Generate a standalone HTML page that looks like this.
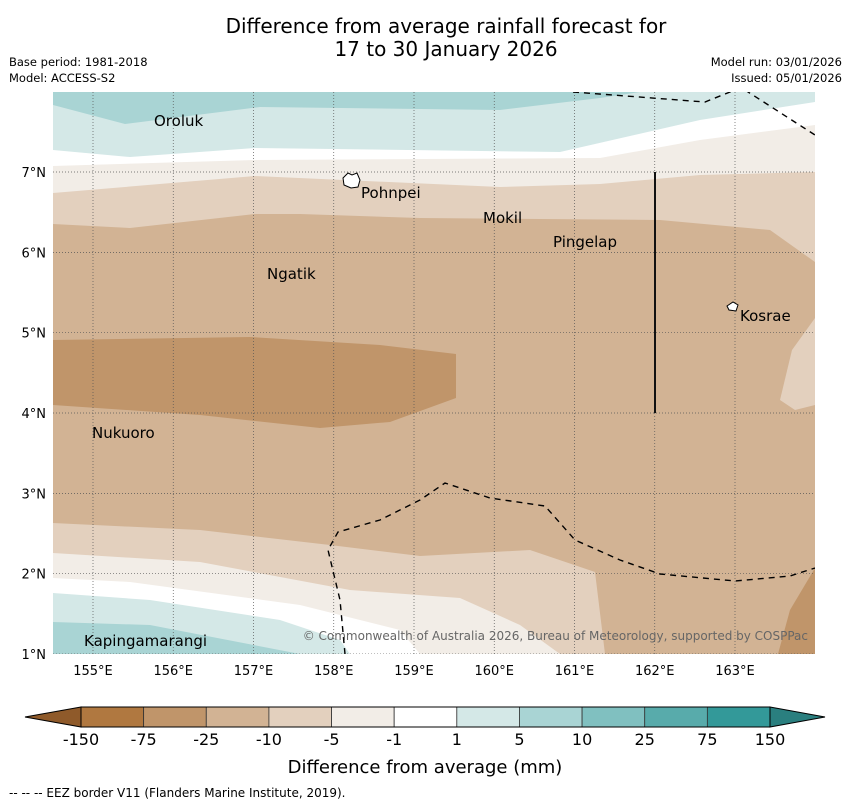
<!DOCTYPE html>
<html><head><meta charset="utf-8"><style>
body{margin:0;background:#fff;font-family:"Liberation Sans","DejaVu Sans",sans-serif}
svg text{font-family:"DejaVu Sans","Liberation Sans",sans-serif}
</style></head><body>
<svg width="850" height="804" viewBox="0 0 850 804" xmlns="http://www.w3.org/2000/svg">
<text x="446" y="33" font-size="20" text-anchor="middle">Difference from average rainfall forecast for</text>
<text x="446" y="56" font-size="20" text-anchor="middle">17 to 30 January 2026</text>
<text x="9" y="66" font-size="11.5">Base period: 1981-2018</text>
<text x="9" y="82" font-size="11.5">Model: ACCESS-S2</text>
<text x="842" y="66" font-size="11.5" text-anchor="end">Model run: 03/01/2026</text>
<text x="842" y="82" font-size="11.5" text-anchor="end">Issued: 05/01/2026</text>
<defs><clipPath id="mc"><rect x="53" y="92" width="762" height="562"/></clipPath></defs>
<g clip-path="url(#mc)">
<rect x="53" y="92" width="762" height="562" fill="#d2b394"/>
<path d="M53,92 L815,92 L815,262 L770,230 L660,220 L420,218 L300,214 L255,214 L130,228 L53,224 Z" fill="#e3d0be"/>
<path d="M53,92 L815,92 L815,172 L700,175 L600,184 L500,187 L255,176 L53,193 Z" fill="#f2ede7"/>
<path d="M53,92 L815,92 L815,125 L700,140 L600,158 L255,160 L53,166 Z" fill="#ffffff"/>
<path d="M53,92 L815,92 L815,102 L700,120 L560,152 L255,148 L130,157 L53,150 Z" fill="#d4e8e7"/>
<path d="M53,92 L640,92 L600,98 L500,110 L260,107 L125,124 L53,105 Z" fill="#a9d4d4"/>
<path d="M53,340 L250,337 L380,345 L456,354 L456,398 L390,422 L320,428 L200,415 L53,405 Z" fill="#c0956a"/>
<path d="M815,318 L792,350 L780,400 L795,410 L815,405 Z" fill="#e3d0be"/>
<path d="M53,523 L200,530 L330,545 L420,556 L530,550 L595,572 L605,654 L53,654 Z" fill="#e3d0be"/>
<path d="M778,654 L790,610 L815,568 L815,654 Z" fill="#c0956a"/>
<path d="M53,553 L200,562 L350,590 L460,598 L520,625 L560,654 L53,654 Z" fill="#f2ede7"/>
<path d="M53,578 L130,582 L300,605 L400,630 L420,654 L53,654 Z" fill="#ffffff"/>
<path d="M53,593 L150,600 L280,620 L340,640 L350,654 L53,654 Z" fill="#d4e8e7"/>
<path d="M53,622 L150,625 L300,654 L53,654 Z" fill="#a9d4d4"/>
<g id="grid" stroke="#555" stroke-width="0.7" stroke-dasharray="1,2"></g>
<line x1="655" y1="172" x2="655" y2="413" stroke="#111" stroke-width="2"/>
<g fill="none" stroke="#000" stroke-width="1.4" stroke-dasharray="6,5">
<path d="M573,92 L705,102 L735,90"/>
<path d="M745,90 L815,135"/>
<path d="M345,654 L340,600 L328,550 L338,532 L380,520 L420,500 L445,483 L490,498 L545,506 L575,540 L620,560 L660,574 L735,581 L790,576 L815,568"/>
</g>
<path d="M343,178 L348,173 L352,175 L357,173 L360,180 L358,187 L351,188 L344,185 Z" fill="#fff" stroke="#000" stroke-width="1"/>
<path d="M727,306 L733,302 L738,305 L736,311 L729,310 Z" fill="#fff" stroke="#000" stroke-width="1"/>
<text x="808" y="640" font-size="12" fill="#666" text-anchor="end">© Commonwealth of Australia 2026, Bureau of Meteorology, supported by COSPPac</text>
</g>
<g font-size="15" fill="#000">
<text x="154" y="126">Oroluk</text>
<text x="361" y="198">Pohnpei</text>
<text x="483" y="223">Mokil</text>
<text x="553" y="247">Pingelap</text>
<text x="267" y="279">Ngatik</text>
<text x="740" y="321">Kosrae</text>
<text x="92" y="438">Nukuoro</text>
<text x="84" y="646">Kapingamarangi</text>
</g>
<g id="axes" font-size="13"></g>
<g id="cbar"></g>
<text x="425" y="773" font-size="18" text-anchor="middle">Difference from average (mm)</text>
<text x="9" y="797" font-size="12">--  --  -- EEZ border V11 (Flanders Marine Institute, 2019).</text>
</svg>
<script>
const lonTicks=[155,156,157,158,159,160,161,162,163];
const latTicks=[1,2,3,4,5,6,7];
const levelLabels=["-150","-75","-25","-10","-5","-1","1","5","10","25","75","150"];
const levelColors=["#b07840","#c0956a","#d2b394","#e3d0be","#f2ede7","#ffffff","#d4e8e7","#a9d4d4","#80c0c0","#58abab","#339999"];
const NS="http://www.w3.org/2000/svg";
const xS=lon=>93+(lon-155)*80.25, yS=lat=>654-(lat-1)*80.33;
function mk(t,a,p){const e=document.createElementNS(NS,t);for(const k in a)e.setAttribute(k,a[k]);p.appendChild(e);return e;}
const grid=document.getElementById('grid'),axes=document.getElementById('axes'),cb=document.getElementById('cbar');
lonTicks.forEach(l=>{const g=mk('line',{x1:xS(l),x2:xS(l),y1:92,y2:654},grid);


const t=mk('text',{x:xS(l),y:675,'text-anchor':'middle'},axes);t.textContent=l+'°E';

});
latTicks.forEach(l=>{const g=mk('line',{x1:53,x2:815,y1:yS(l),y2:yS(l)},grid);


const t=mk('text',{x:46,y:yS(l)+5,'text-anchor':'end'},axes);t.textContent=l+'°N';

});
const x0=81,x1=770,w=(x1-x0)/levelColors.length,y0=707,h=20;
const la=mk('polygon',{points:`${x0},${y0} 25,${y0+h/2} ${x0},${y0+h}`,fill:'#8f5a2a',stroke:'#000','stroke-width':1},cb);


const ra=mk('polygon',{points:`${x1},${y0} 825,${y0+h/2} ${x1},${y0+h}`,fill:'#2a7f7f',stroke:'#000','stroke-width':1},cb);


levelColors.forEach((c,i)=>{const r=mk('rect',{x:x0+i*w,y:y0,width:w,height:h,fill:c,stroke:'#333','stroke-width':0.8},cb);

});
mk('rect',{x:x0,y:y0,width:x1-x0,height:h,fill:'none',stroke:'#000','stroke-width':1},cb);
levelLabels.forEach((s,i)=>{const t=mk('text',{x:x0+i*w,y:745,'font-size':16,'text-anchor':'middle'},cb);t.textContent=s;

});
</script>
</body></html>
